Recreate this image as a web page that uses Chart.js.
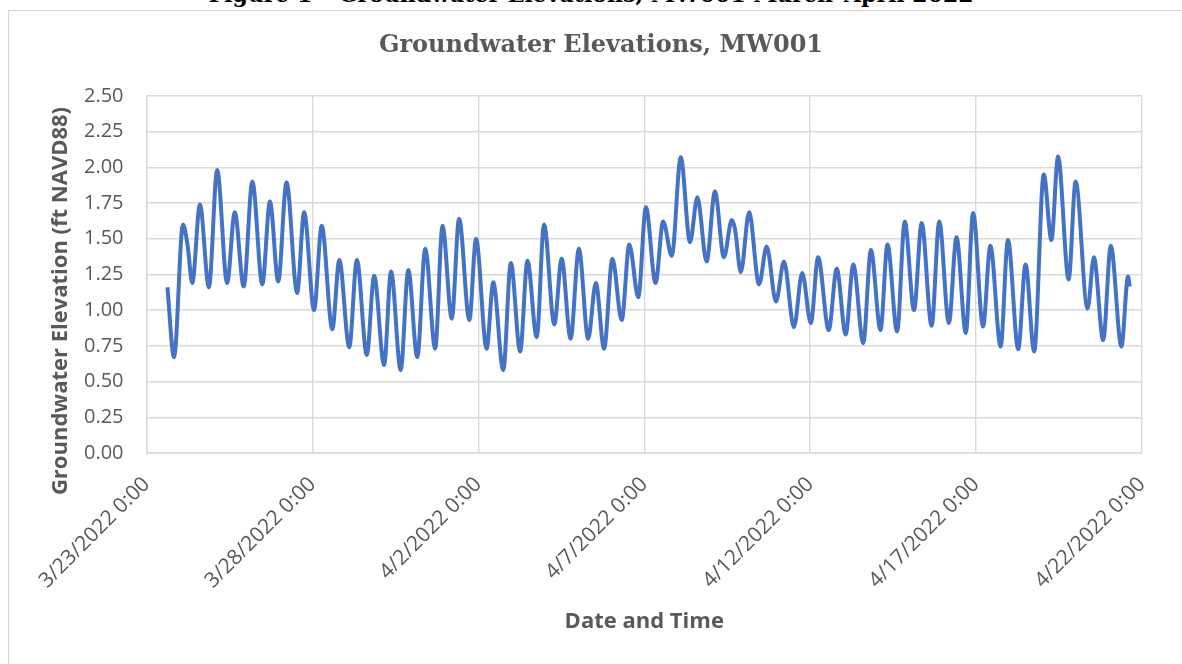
<!DOCTYPE html>
<html>
<head>
<meta charset="utf-8">
<script src="https://cdn.jsdelivr.net/npm/chart.js@4.4.1/dist/chart.umd.min.js"></script>
<style>
  html, body { margin: 0; padding: 0; background: #fff; overflow: hidden; }
  #page { position: relative; width: 1182px; height: 664px; overflow: hidden; }
  #header {
    position: absolute; left: 0; width: 1182px; top: -17px;
    text-align: center; font-family: "DejaVu Serif", serif; font-weight: bold;
    font-size: 22px; line-height: 22px; color: #000; white-space: nowrap;
  }
  #box { position: absolute; left: 8px; top: 10px; width: 1200px; height: 700px; border: 1.5px solid #d6d6d6; }
  #statsCanvas { position: absolute; left: 0; top: 0; }
</style>
</head>
<body>
<div id="page">
  <div id="header">Figure 1 – Groundwater Elevations, MW001 March–April 2022</div>
  <div id="box"></div>
  <canvas id="statsCanvas" width="1182" height="664"></canvas>
</div>
<script>
// --- Datos (días desde 3/23/2022 0:00, elevación en ft) ---
const tickLabels = ['3/23/2022 0:00', '3/28/2022 0:00', '4/2/2022 0:00', '4/7/2022 0:00',
                    '4/12/2022 0:00', '4/17/2022 0:00', '4/22/2022 0:00'];

const dayOffsets = [
    0.63, 0.83, 1.10, 1.24, 1.38, 1.61, 1.88, 2.13, 2.43, 2.66, 2.93, 3.19, 3.49, 3.72, 3.97,
    4.22, 4.54, 4.75, 5.05, 5.28, 5.60, 5.81, 6.11, 6.34, 6.64, 6.86, 7.16, 7.37, 7.66, 7.89,
    8.16, 8.40, 8.70, 8.92, 9.20, 9.42, 9.73, 9.93, 10.25, 10.45, 10.75, 10.98, 11.26, 11.48,
    11.76, 11.98, 12.29, 12.51, 12.78, 13.03, 13.31, 13.54, 13.79, 14.04, 14.32, 14.55, 14.82,
    15.05, 15.34, 15.57, 15.83, 16.10, 16.38, 16.60, 16.88, 17.13, 17.40, 17.64, 17.74, 17.91,
    18.16, 18.46, 18.69, 18.97, 19.21, 19.51, 19.76, 20.02, 20.24, 20.56, 20.80, 21.07, 21.30,
    21.60, 21.83, 22.12, 22.33, 22.62, 22.85, 23.13, 23.36, 23.66, 23.89, 24.18, 24.41, 24.69,
    24.91, 25.21, 25.43, 25.74, 25.96, 26.27, 26.49, 26.75, 27.04, 27.27, 27.47, 27.79, 28.00,
    28.36, 28.55, 28.83, 29.06, 29.38, 29.58, 29.63
];

const elevations = [
    1.16, 0.67, 1.60, 1.45, 1.19, 1.74, 1.16, 1.98, 1.19, 1.685, 1.165, 1.90, 1.18, 1.76, 1.20,
    1.895, 1.12, 1.685, 1.00, 1.59, 0.866, 1.35, 0.74, 1.35, 0.686, 1.24, 0.616, 1.27, 0.58, 1.28,
    0.67, 1.43, 0.73, 1.59, 0.94, 1.64, 0.93, 1.50, 0.73, 1.195, 0.58, 1.33, 0.71, 1.345,
    0.81, 1.60, 0.90, 1.36, 0.80, 1.43, 0.80, 1.19, 0.73, 1.36, 0.93, 1.46, 1.09,
    1.72, 1.19, 1.62, 1.38, 2.07, 1.475, 1.79, 1.34, 1.83, 1.37, 1.63, 1.56, 1.265,
    1.685, 1.18, 1.445, 1.06, 1.34, 0.88, 1.26, 0.91, 1.37, 0.86, 1.29, 0.83, 1.32,
    0.77, 1.42, 0.86, 1.46, 0.85, 1.62, 1.00, 1.61, 0.89, 1.62, 0.91, 1.51, 0.84,
    1.68, 0.885, 1.45, 0.745, 1.49, 0.726, 1.32, 0.71, 1.95, 1.49, 2.075, 1.215, 1.90,
    1.01, 1.37, 0.79, 1.45, 0.745, 1.235, 1.165
];

const gray = '#595959';
const gridColor = '#d9d9d9';
const yTitle = 'Groundwater Elevation (ft NAVD88)';

// Título del eje Y dibujado a mano para centrarlo como en Excel
const yTitlePlugin = {
    id: 'yTitlePlugin',
    afterDraw(chart) {
        const ctx = chart.ctx;
        ctx.save();
        ctx.translate(61, 301);
        ctx.rotate(-Math.PI / 2);
        ctx.font = 'bold 22px "Open Sans", sans-serif';
        ctx.fillStyle = gray;
        ctx.textAlign = 'center';
        ctx.textBaseline = 'middle';
        ctx.fillText(yTitle, 0, 0);
        ctx.restore();
    }
};

const points = dayOffsets.map((d, i) => ({ x: d, y: elevations[i] }));

const ctx = document.getElementById('statsCanvas').getContext('2d');
new Chart(ctx, {
    type: 'line',
    data: {
        datasets: [{
            label: 'MW001',
            data: points,
            borderColor: '#4472C4',
            borderWidth: 4,
            pointRadius: 0,
            cubicInterpolationMode: 'monotone',
            fill: false
        }]
    },
    options: {
        responsive: false,
        animation: false,
        layout: { padding: { left: 60, right: 40, top: 10, bottom: 20 } },
        plugins: {
            legend: { display: false },
            tooltip: { enabled: false },
            title: {
                display: true,
                text: 'Groundwater Elevations, MW001',
                color: gray,
                font: { family: '"DejaVu Serif", serif', size: 24, weight: 'bold', lineHeight: 1.2 },
                padding: { top: 21, bottom: 36 }
            }
        },
        scales: {
            x: {
                type: 'linear',
                min: 0,
                max: 30,
                grid: { color: gridColor, lineWidth: 1.4, drawTicks: false },
                border: { color: gridColor, width: 1.4 },
                ticks: {
                    stepSize: 5,
                    autoSkip: false,
                    minRotation: 45,
                    maxRotation: 45,
                    padding: 19,
                    color: gray,
                    font: { family: '"Open Sans", sans-serif', size: 21 },
                    callback: v => tickLabels[Math.round(v / 5)]
                },
                title: {
                    display: true,
                    text: 'Date and Time',
                    color: gray,
                    font: { family: '"Open Sans", sans-serif', size: 22, weight: 'bold', lineHeight: 1.2 },
                    padding: { top: 4, bottom: 9 }
                },
                afterFit: s => { s.height = 191; }
            },
            y: {
                min: 0,
                max: 2.5,
                grid: { color: gridColor, lineWidth: 1.4, drawTicks: false },
                border: { color: gridColor, width: 1.4 },
                ticks: {
                    stepSize: 0.25,
                    padding: 23,
                    color: gray,
                    font: { family: '"Open Sans", sans-serif', size: 20 },
                    callback: v => v.toFixed(2)
                },
                afterFit: s => { s.width = 86.5; }
            }
        }
    },
    plugins: [yTitlePlugin]
});
</script>
</body>
</html>
